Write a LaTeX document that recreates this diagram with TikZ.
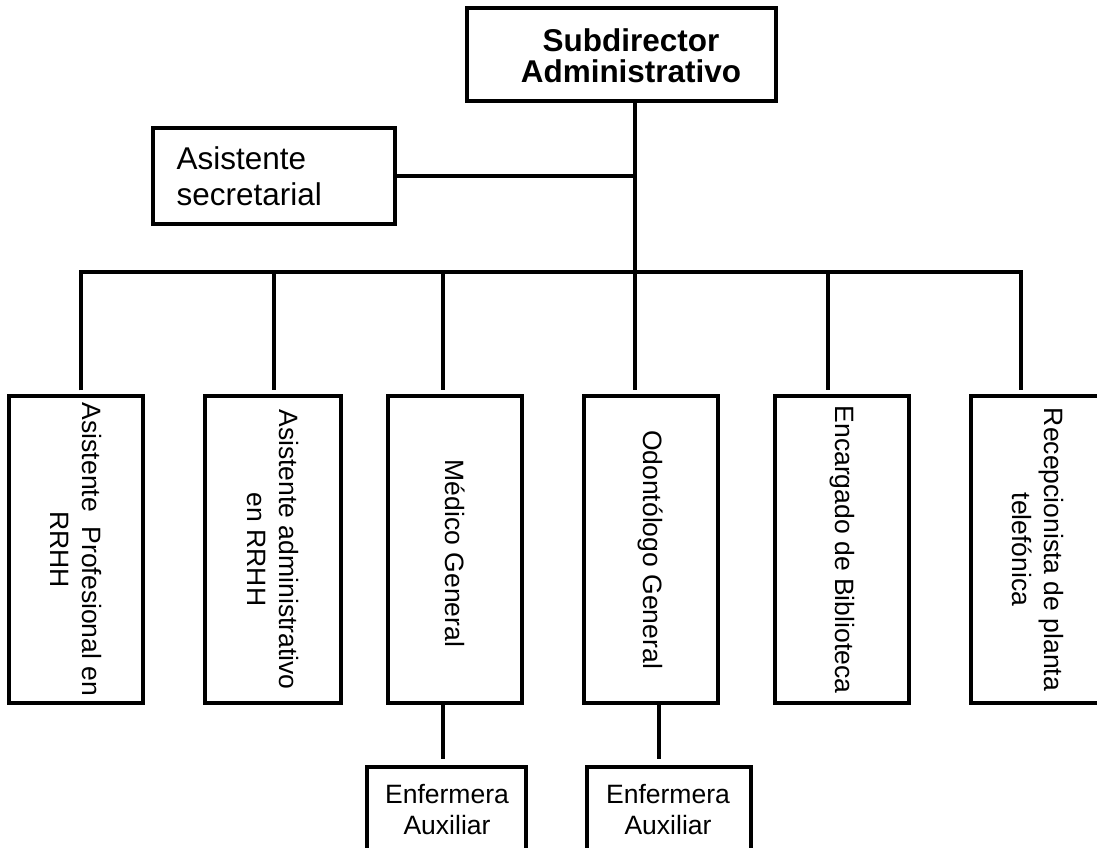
\documentclass[tikz,border=0pt]{standalone}
\usepackage{fontspec}
\setmainfont{Liberation Sans}
\usetikzlibrary{fit}
\begin{document}
\begin{tikzpicture}[x=0.75pt,y=-0.75pt,line width=2.5pt,
  unit/.style={draw,inner sep=0pt},
  headfont/.style={font=\bfseries\fontsize{23.6pt}{23pt}\selectfont},
  asisfont/.style={font=\fontsize{23.6pt}{27pt}\selectfont},
  vtext/.style={font=\fontsize{19.9pt}{24pt}\selectfont,align=center,rotate=-90,inner sep=0pt},
  enftext/.style={font=\fontsize{19.9pt}{23.25pt}\selectfont,align=center,inner sep=0pt},
  link/.style={shorten >=3pt}]
\useasboundingbox (0,0) rectangle (1097,847);
\fill[white] (0,0) rectangle (1097,847);
\clip (0,0) rectangle (1097,847);

% head of the unit
\node[unit,fit={(467,8)(776,101)}] (sub) {};
\node[headfont,align=center,inner sep=0pt] (subtxt) at (631,56) {Subdirector\\Administrativo};

% staff position
\node[unit,fit={(153,128)(395,224)}] (asis) {};
\node[asisfont,align=left,inner sep=0pt,anchor=west] (asistxt) at (175,176.5) {Asistente\\secretarial};

% subordinate positions
\node[unit,fit={(9,396)(143,703)}] (p1) {};
\node[vtext] (p1txt) at (p1.center) {Asistente\ \ Profesional en\\RRHH};
\node[unit,fit={(205,396)(341,703)}] (p2) {};
\node[vtext] (p2txt) at (p2.center) {Asistente administrativo\\en RRHH};
\node[unit,fit={(388,396)(522,703)}] (p3) {};
\node[vtext] (p3txt) at ([yshift=-3pt]p3.center) {Médico General};
\node[unit,fit={(584,396)(718,703)}] (p4) {};
\node[vtext] (p4txt) at (p4.center) {Odontólogo General};
\node[unit,fit={(775,396)(909,703)}] (p5) {};
\node[vtext] (p5txt) at (p5.center) {Encargado de Biblioteca};
\node[unit,fit={(971,396)(1105,703)}] (p6) {};
\node[vtext] (p6txt) at (p6.center) {Recepcionista de planta\\telefónica};

% nursing support
\node[unit,fit={(367,767)(526,880)}] (e1) {};
\node[enftext] (e1txt) at (447,810) {Enfermera\\Auxiliar};
\node[unit,fit={(587,767)(751,880)}] (e2) {};
\node[enftext] (e2txt) at (668,810) {Enfermera\\Auxiliar};

% bus junctions
\coordinate (j1) at (81,272);
\coordinate (j2) at (274,272);
\coordinate (j3) at (443,272);
\coordinate (j4) at (635,272);
\coordinate (j5) at (828,272);
\coordinate (j6) at (1021,272);
\coordinate (k3) at (443,0);
\coordinate (k4) at (659,0);

% connectors
\draw[shorten <=3pt,shorten >=3pt] (j1 |- p1.north) -- (j1) -- (j6) -- (j6 |- p6.north);
\draw[link] (j2) -- (j2 |- p2.north);
\draw[link] (j3) -- (j3 |- p3.north);
\draw[link] (j5) -- (j5 |- p5.north);
\draw[link] (j4 |- sub.south) -- (j4 |- p4.north);
\draw (asis.east) -- (asis.east -| j4);
\draw[shorten >=4.5pt] (k3 |- p3.south) -- (k3 |- e1.north);
\draw[shorten >=4.5pt] (k4 |- p4.south) -- (k4 |- e2.north);
\end{tikzpicture}
\end{document}
